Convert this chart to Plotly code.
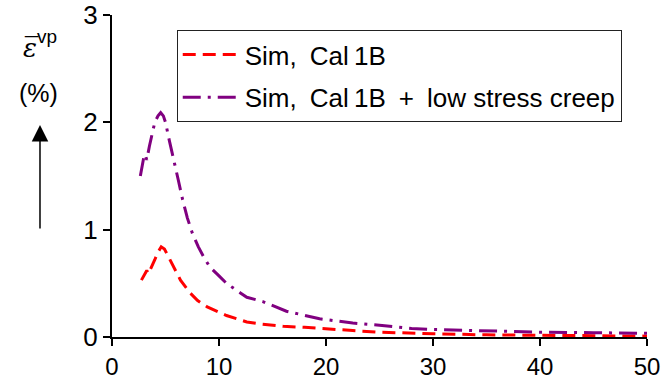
import plotly.graph_objects as go

# Data
x_cal1b = [2.75, 3.0, 3.25, 3.4, 3.7, 4.0, 4.3, 4.6, 4.9, 5.4, 6.0, 6.4, 7.3, 8.0, 8.9,
           10.0, 10.7, 12.0, 12.6, 14.0, 16.0, 18.0, 20.0, 22.5, 25.0, 28.0, 30.0,
           35.0, 40.0, 45.0, 50.0]
y_cal1b = [0.53, 0.58, 0.62, 0.59, 0.65, 0.72, 0.79, 0.84, 0.82, 0.72, 0.60, 0.53,
           0.41, 0.34, 0.28, 0.23, 0.20, 0.16, 0.14, 0.12, 0.10, 0.09, 0.075, 0.06,
           0.045, 0.035, 0.03, 0.02, 0.015, 0.01, 0.008]

x_creep = [2.65, 2.8, 3.0, 3.1, 3.25, 3.5, 3.8, 4.0, 4.3, 4.55, 4.8, 5.0, 5.36, 5.8,
           6.2, 6.6, 7.04, 7.5, 8.07, 8.6, 9.16, 10.0, 10.7, 12.0, 12.6, 14.1, 16.3,
           19.4, 22.5, 25.0, 28.0, 30.0, 35.0, 40.0, 45.0, 50.0]
y_creep = [1.50, 1.60, 1.69, 1.70, 1.65, 1.78, 1.93, 2.00, 2.06, 2.09, 2.06, 2.00,
           1.83, 1.65, 1.46, 1.28, 1.11, 0.97, 0.84, 0.74, 0.65, 0.57, 0.50, 0.41,
           0.37, 0.33, 0.24, 0.17, 0.13, 0.11, 0.08, 0.07, 0.055, 0.045, 0.04, 0.035]

x_ticks = [0, 10, 20, 30, 40, 50]
y_ticks = [0, 1, 2, 3]

label_cal1b = "Sim,\u2002Cal\u20091B"
label_creep = "Sim,\u2002Cal\u20091B\u2002+\u2002low stress creep"

FONT = "Liberation Sans, Arial, Helvetica, sans-serif"

fig = go.Figure()
fig.add_trace(go.Scatter(
    x=x_cal1b, y=y_cal1b, mode="lines", name=label_cal1b, legendgroup="a",
    line=dict(color="#ff0000", width=3, dash="13px,7px"),
))
fig.add_trace(go.Scatter(
    x=x_creep, y=y_creep, mode="lines", name=label_creep, legendgroup="b",
    line=dict(color="#800080", width=3, dash="18px,7px,3px,7px"),
))

fig.update_layout(
    width=667, height=378,
    margin=dict(l=112, r=20, t=15, b=41),
    paper_bgcolor="white", plot_bgcolor="white",
    font=dict(family=FONT, size=25, color="black"),
    showlegend=True,
    legend=dict(
        x=0.121, y=0.953, xanchor="left", yanchor="top",
        bgcolor="white", bordercolor="#222", borderwidth=1,
        font=dict(size=26), tracegroupgap=6, traceorder="grouped",
        itemwidth=57,
    ),
    xaxis=dict(
        range=[0, 50], tickvals=x_ticks, ticktext=[str(v) for v in x_ticks],
        ticks="outside", ticklen=7, tickwidth=1.5, tickcolor="black",
        showline=True, linecolor="black", linewidth=2,
        showgrid=False, zeroline=False, automargin=False,
        tickfont=dict(size=24),
    ),
    yaxis=dict(
        range=[0, 3], tickvals=y_ticks, ticktext=[str(v) for v in y_ticks],
        ticks="outside", ticklen=7, tickwidth=1.5, tickcolor="black",
        showline=True, linecolor="black", linewidth=2,
        showgrid=False, zeroline=False, automargin=False,
        tickfont=dict(size=26),
    ),
    annotations=[
        dict(xref="paper", yref="paper", x=-0.1542, y=0.8975,
             text="<i>\u03b5</i>", showarrow=False,
             xanchor="center", yanchor="middle",
             font=dict(size=26, family="DejaVu Serif")),
        dict(xref="paper", yref="paper", x=-0.1505, y=0.905,
             text="\u00af", showarrow=False,
             xanchor="center", yanchor="middle", font=dict(size=24)),
        dict(xref="paper", yref="paper", x=-0.1215, y=0.9317,
             text="vp", showarrow=False,
             xanchor="center", yanchor="middle", font=dict(size=19)),
        dict(xref="paper", yref="paper", x=-0.138, y=0.758,
             text="(%)", showarrow=False,
             xanchor="center", yanchor="middle", font=dict(size=25)),
        dict(xref="paper", yref="paper", x=-0.1346, y=0.658,
             text="", showarrow=True, ax=0, ay=105,
             arrowhead=2, arrowsize=2.2, arrowwidth=1.5, arrowcolor="black"),
    ],
)

fig.write_html("out.html")
